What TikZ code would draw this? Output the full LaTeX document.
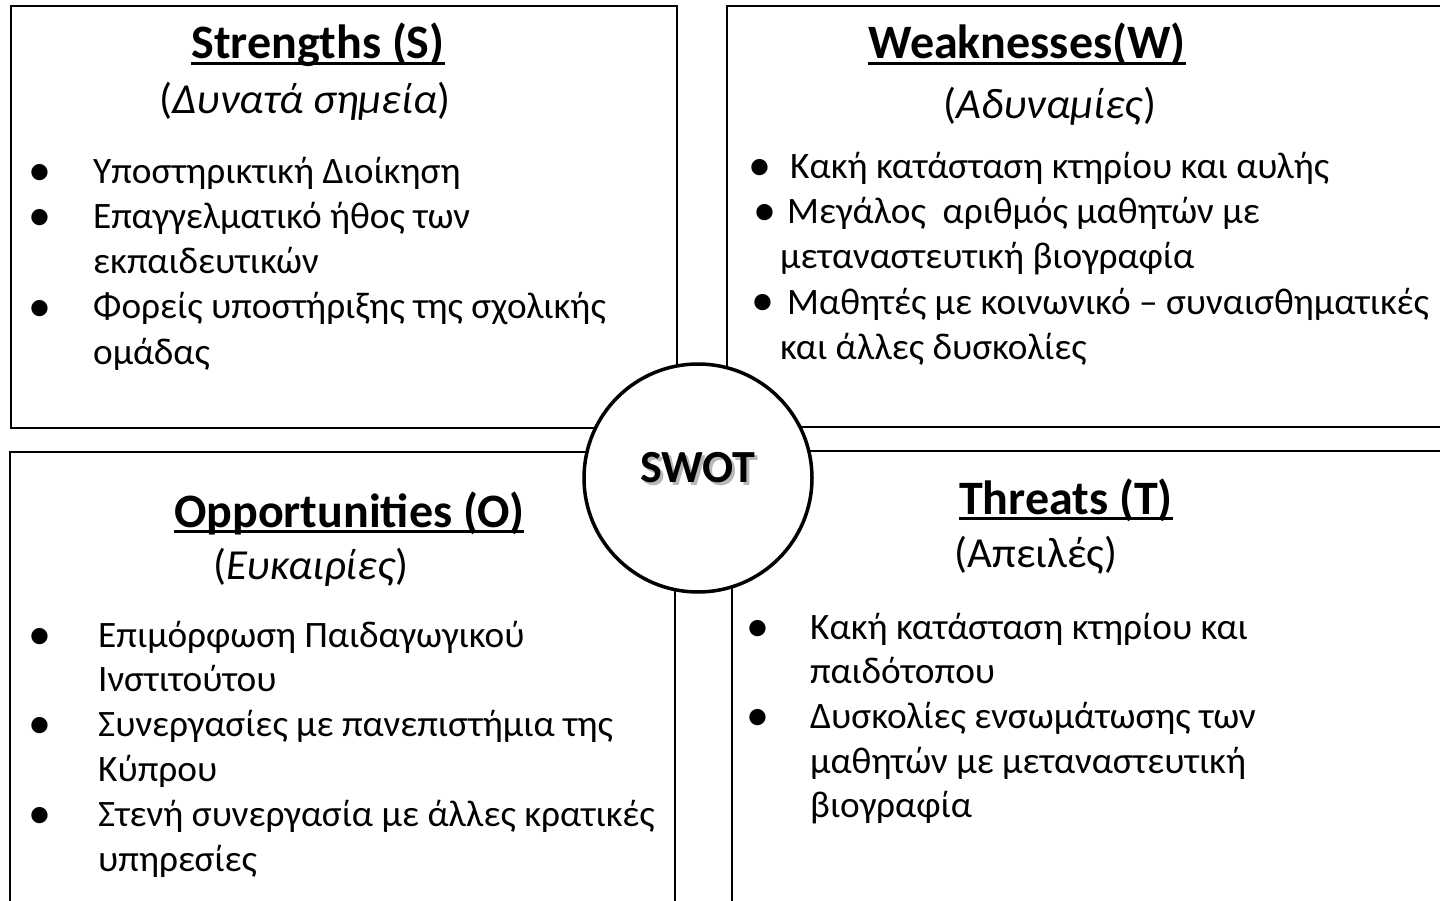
\documentclass[tikz,border=0pt]{standalone}
\usepackage{fontspec}
\setmainfont{Carlito}
\begin{document}
\begin{tikzpicture}[x=1pt,y=-1pt,
  box/.style={draw=black,line width=2pt},
  body/.style={anchor=base west,inner sep=0pt,font=\fontsize{37.3}{44}\selectfont},
  bul/.style={anchor=base,inner sep=0pt,font=\fontsize{46}{50}\selectfont},
  head/.style={anchor=base,inner sep=0pt,font=\fontsize{48}{54}\selectfont\bfseries},
  sub/.style={anchor=base,inner sep=0pt,font=\fontsize{42.8}{48}\selectfont},
  ul/.style={line width=2.2pt}]
\useasboundingbox (0,0) rectangle (1440,901);
% boxes
\draw[box] (11,6) rectangle (677,428);
\draw[box] (1450,6) -- (727,6) -- (727,427) -- (1450,427);
\draw[box] (10,910) -- (10,452) -- (675,452) -- (675,910);
\draw[box] (1450,451) -- (732,451) -- (732,910);
% circle
\node[circle,draw=black,fill=white,line width=3.5pt,minimum size=228pt,inner sep=0pt] (c) at (698,478) {};
\node[anchor=base,inner sep=0pt,font=\fontsize{46}{50}\selectfont\bfseries] (swot) at (698,482)
  {\makebox[0pt][l]{\hspace{3pt}\raisebox{-3pt}{\textcolor{black!28}{SWOT}}}SWOT};
% Strengths
\node[head] (hs) at (318,59) {Strengths (S)};
\draw[ul] ([yshift=-4.5pt]hs.base west) -- ([yshift=-4.5pt]hs.base east);
\node[sub] (ss) at (305,114) {(\textit{Δυνατά σημεία})};
\node[bul] (bs1) at (40,186) {•};
\node[body] (s1) at (93,184) {Υποστηρικτική Διοίκηση};
\node[bul] (bs2) at (40,231) {•};
\node[body] (s2) at (93,229) {Επαγγελματικό ήθος των};
\node[body] (s3) at (93,274) {εκπαιδευτικών};
\node[bul] (bs3) at (40,321) {•};
\node[body] (s4) at (93,319) {Φορείς υποστήριξης της σχολικής};
\node[body] (s5) at (93,364) {ομάδας};
% Weaknesses
\node[head] (hw) at (1027,59) {Weaknesses(W)};
\draw[ul] ([yshift=-4.5pt]hw.base west) -- ([yshift=-4.5pt]hw.base east);
\node[sub] (sw) at (1050,119) {(\textit{Αδυναμίες})};
\node[bul] (bw1) at (760,181) {•};
\node[body] (w1) at (790,179) {Κακή κατάσταση κτηρίου και αυλής};
\node[bul] (bw2) at (765,226) {•};
\node[body] (w2) at (787,224) {Μεγάλος\ \ αριθμός μαθητών με};
\node[body] (w3) at (780,269) {μεταναστευτική βιογραφία};
\node[bul] (bw3) at (763,316) {•};
\node[body] (w4) at (787,314) {Μαθητές με κοινωνικό – συναισθηματικές};
\node[body] (w5) at (780,359) {και άλλες δυσκολίες};
% Opportunities
\node[head] (ho) at (349,527) {Opportunities (O)};
\draw[ul] ([yshift=-4.5pt]ho.base west) -- ([yshift=-4.5pt]ho.base east);
\node[sub] (so) at (311,579) {(\textit{Ευκαιρίες})};
\node[bul] (bo1) at (40,649) {•};
\node[body] (o1) at (98,647) {Επιμόρφωση Παιδαγωγικού};
\node[body] (o2) at (98,691) {Ινστιτούτου};
\node[bul] (bo2) at (40,738) {•};
\node[body] (o3) at (98,736) {Συνεργασίες με πανεπιστήμια της};
\node[body] (o4) at (98,781) {Κύπρου};
\node[bul] (bo3) at (40,828) {•};
\node[body] (o5) at (98,826) {Στενή συνεργασία με άλλες κρατικές};
\node[body] (o6) at (98,871) {υπηρεσίες};
% Threats
\node[head] (ht) at (1066,514) {Threats (T)};
\draw[ul] ([yshift=-4.5pt]ht.base west) -- ([yshift=-4.5pt]ht.base east);
\node[sub] (st) at (1036,567) {(Απειλές)};
\node[bul] (bt1) at (758,641) {•};
\node[body] (t1) at (810,639) {Κακή κατάσταση κτηρίου και};
\node[body] (t2) at (810,683) {παιδότοπου};
\node[bul] (bt2) at (758,730) {•};
\node[body] (t3) at (810,728) {Δυσκολίες ενσωμάτωσης των};
\node[body] (t4) at (810,773) {μαθητών με μεταναστευτική};
\node[body] (t5) at (810,817) {βιογραφία};
\end{tikzpicture}
\end{document}
